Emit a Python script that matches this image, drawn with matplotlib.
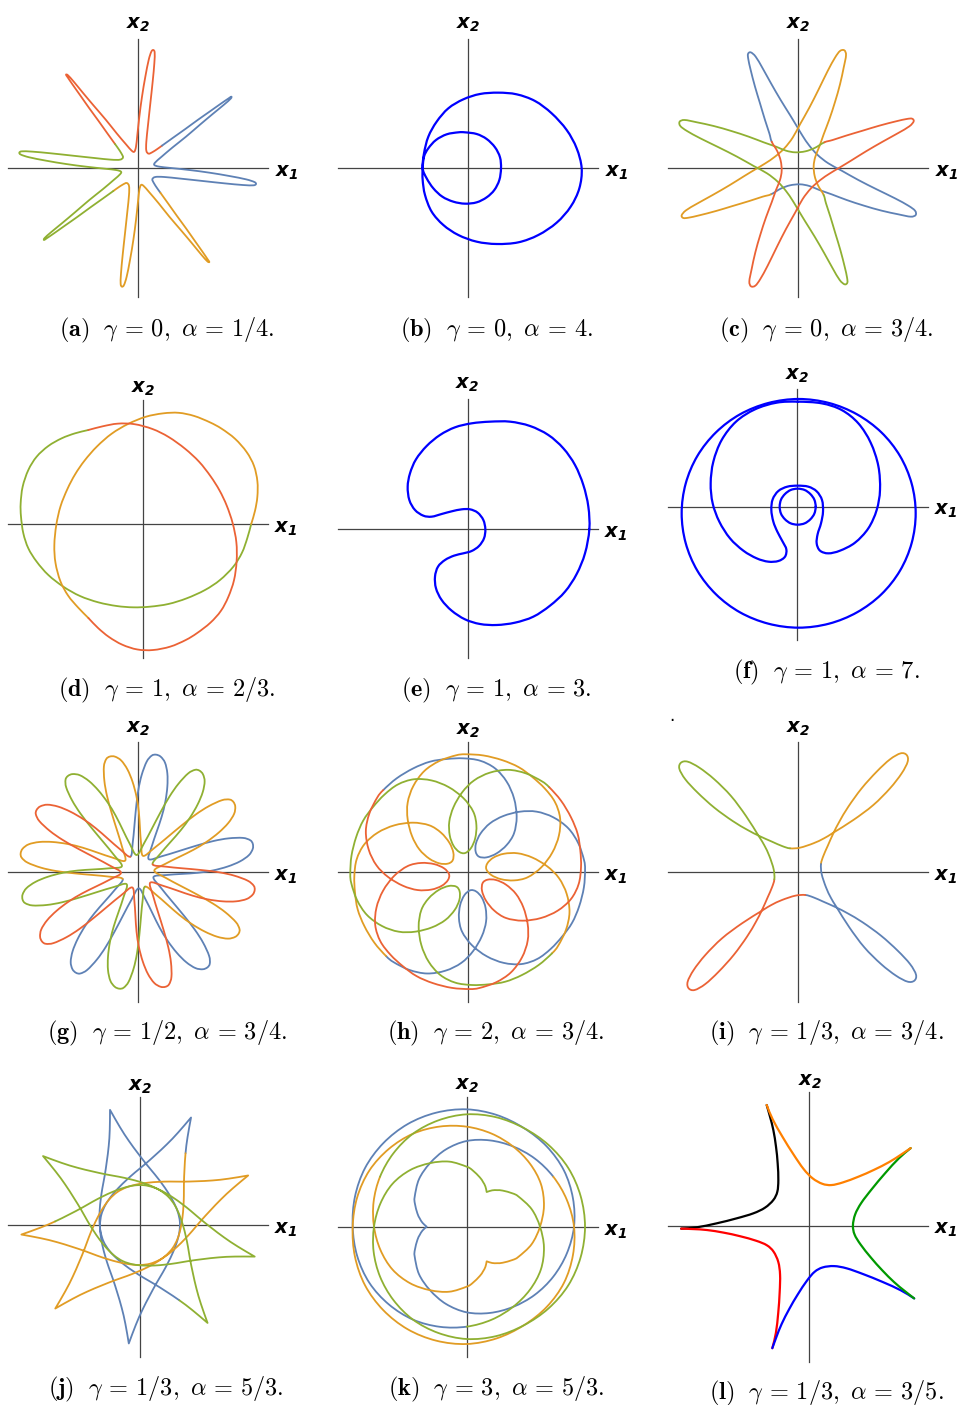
import numpy as np
import matplotlib.pyplot as plt
from matplotlib.path import Path
from matplotlib.patches import PathPatch

plt.rcParams['mathtext.fontset'] = 'cm'

W, H = 958, 1405
fig = plt.figure(figsize=(W / 100, H / 100), dpi=100)

# Mathematica default palette + pure colours
MBLUE, MORANGE, MGREEN, MRED = '#5E81B5', '#E19C24', '#8FB032', '#EB6235'
PURE = '#0000FF'
MCOLS = [MBLUE, MORANGE, MGREEN, MRED]

# ---------------------------------------------------------------------------
# traced curves, in 1/3-pixel units of each panel (y downwards), with the
# position of the (x1, x2) origin in the same units
# ---------------------------------------------------------------------------

# (a) gamma=0, alpha=1/4 : one quarter of the orbit (red), the rest by rotation
a_origin = (413, 505)
a_red = [(345, 432), (322, 400), (295, 362), (268, 325), (242, 288), (218, 254),
         (203, 232), (198, 224), (204, 226), (222, 246), (250, 280), (282, 318),
         (318, 360), (350, 400), (378, 433), (395, 452), (403, 455), (408, 440),
         (412, 405), (418, 350), (426, 290), (436, 230), (446, 180), (454, 155),
         (460, 150), (464, 158), (463, 190), (458, 245), (451, 310), (444, 375),
         (439, 425), (439, 452), (446, 461), (458, 456), (472, 447), (486, 437)]

# (b) gamma=0, alpha=4
b_origin = (413, 505)
b_outer = [(278, 505), (282, 460), (295, 410), (320, 365), (355, 325), (400, 298),
           (450, 282), (505, 278), (560, 283), (615, 303), (665, 340), (710, 390),
           (740, 445), (755, 505), (748, 565), (722, 620), (680, 668), (625, 705),
           (565, 727), (500, 732), (440, 725), (385, 705), (340, 675), (305, 635),
           (285, 585), (278, 540), (278, 505)]
b_inner = [(278, 505), (282, 470), (295, 445), (318, 420), (350, 403), (385, 397),
           (405, 397), (440, 402), (470, 417), (495, 442), (510, 472), (513, 505),
           (508, 540), (493, 570), (470, 592), (440, 607), (405, 611), (370, 605),
           (337, 590), (310, 565), (290, 535), (278, 505)]

# (c) gamma=0, alpha=3/4 : blue quarter
c_origin = (413, 505)
c_blue = [(335, 425), (328, 400), (315, 360), (300, 310), (285, 260), (272, 210),
          (265, 178), (264, 162), (272, 157), (287, 170), (308, 205), (333, 250),
          (362, 300), (390, 345), (410, 378), (428, 408), (448, 437), (473, 465),
          (505, 490), (545, 512), (595, 540), (650, 568), (705, 595), (745, 617),
          (765, 632), (767, 645), (752, 650), (715, 643), (665, 632), (612, 617),
          (560, 600), (515, 583), (478, 570), (448, 558), (420, 553), (390, 556),
          (362, 566), (333, 583)]

# (d) gamma=1, alpha=2/3 : green third
d_origin = (428, 492)
d_green = [(265, 210), (225, 220), (185, 235), (145, 258), (110, 290), (85, 330),
           (68, 380), (62, 430), (63, 470), (70, 520), (85, 565), (110, 605),
           (145, 645), (190, 680), (240, 708), (295, 727), (350, 738), (400, 742),
           (450, 740), (505, 732), (560, 715), (615, 690), (660, 660), (700, 620),
           (726, 578), (742, 534), (754, 492)]

# (e) gamma=1, alpha=3
e_origin = (413, 478)
e_curve = [(778, 478), (775, 410), (760, 345), (735, 285), (700, 235), (655, 195),
           (600, 168), (540, 155), (480, 155), (425, 160), (375, 172), (330, 195),
           (290, 228), (258, 268), (240, 310), (233, 350), (238, 390), (255, 420),
           (280, 437), (305, 440), (335, 432), (365, 424), (395, 418), (420, 418),
           (443, 428), (460, 450), (466, 478), (462, 505), (447, 528), (425, 543),
           (400, 550), (372, 557), (345, 570), (324, 590), (315, 620), (318, 655),
           (335, 690), (365, 722), (405, 748), (450, 762), (500, 765), (555, 758),
           (610, 740), (660, 707), (705, 665), (740, 612), (765, 550), (778, 478)]

# (f) gamma=1, alpha=7
f_origin = (410, 440)
f_outer = [(416, 117), (325, 129), (240, 163), (168, 217), (112, 288), (77, 371),
           (65, 460), (77, 549), (112, 632), (168, 703), (240, 757), (325, 791),
           (416, 803), (507, 791), (591, 757), (664, 703), (720, 632), (755, 549),
           (767, 460), (755, 371), (720, 288), (664, 217), (591, 163), (507, 129),
           (416, 117)]
f_middle = [(413, 125), (485, 130), (545, 150), (595, 190), (632, 248), (655, 318),
            (660, 390), (650, 450), (625, 505), (585, 548), (540, 572), (505, 580),
            (480, 572), (470, 550), (473, 522), (483, 490), (489, 455), (486, 420),
            (470, 394), (445, 380), (413, 377), (382, 380), (355, 393), (338, 418),
            (334, 450), (340, 485), (352, 515), (368, 545), (379, 568), (375, 590),
            (355, 603), (325, 605), (290, 595), (250, 572), (210, 535), (178, 485),
            (158, 430), (152, 370), (160, 305), (185, 240), (228, 185), (285, 148),
            (350, 128), (413, 125)]
f_inner = [(467, 440), (463, 419), (451, 402), (434, 390), (413, 386), (392, 390),
           (375, 402), (363, 419), (359, 440), (363, 461), (375, 478), (392, 490),
           (413, 494), (434, 490), (451, 478), (463, 461), (467, 440)]

# (g) gamma=1/2, alpha=3/4 : one petal, 16 petals in all
g_origin = (413, 455)
g_petal = [(391, 410), (398, 370), (403, 320), (408, 265), (415, 210), (425, 165),
           (440, 125), (455, 107), (468, 104), (482, 110), (495, 128), (502, 160),
           (502, 200), (496, 245), (485, 290), (470, 335), (455, 380), (446, 418)]
g_step = -67.5

# (h) gamma=2, alpha=3/4 : one outer arc + inner loop, 8 in all
h_origin = (413, 455)
h_unit = [(160, 210), (200, 175), (250, 145), (300, 125), (350, 117), (400, 115),
          (450, 122), (495, 145), (530, 185), (552, 235), (560, 290), (552, 340),
          (530, 375), (500, 400), (470, 412), (447, 410), (437, 395), (438, 370),
          (452, 340), (480, 310), (520, 288), (570, 275), (620, 275), (670, 292),
          (715, 325), (745, 370), (762, 420), (765, 449)]
h_step = -135.0

# (i) gamma=1/3, alpha=3/4 : orange quarter
i_origin = (413, 455)
i_orange = [(390, 385), (420, 383), (460, 370), (492, 355), (520, 338), (580, 300),
            (640, 255), (690, 205), (725, 160), (743, 125), (740, 105), (722, 100),
            (690, 118), (650, 155), (605, 205), (565, 260), (538, 305), (520, 340),
            (503, 378), (490, 408), (485, 430)]

# (j) gamma=1/3, alpha=5/3 : radius against angle swept from a cusp
j_phi = [0, 3, 7, 13, 21, 31, 42, 55, 70, 85, 100]
j_r = [357, 300, 255, 215, 182, 158, 141, 129, 122, 120, 120]
j_period, j_theta0 = 200, 104.6
j_ranges = [(-193, 407), (407, 1007), (1007, 1607)]

# (k) gamma=3, alpha=5/3
k_phi = [0, 5, 10, 15, 24, 30, 45, 60, 75, 90, 105, 120, 135, 150, 165, 180,
         195, 210, 225, 240, 255, 270, 285, 300]
k_r = [120, 133, 143, 153, 170, 180, 202, 220, 240, 257, 268, 278, 289, 300, 311,
       322, 330, 337, 340, 342, 347, 352, 354, 355]
k_period, k_theta0 = 600, 180.0
k_ranges = [(-450, 150), (150, 750), (750, 1350)]

# (l) gamma=1/3, alpha=3/5 : black fifth
l_origin = (447, 497)
l_black = [(320, 135), (330, 170), (340, 210), (348, 260), (353, 310), (355, 360),
           (352, 395), (340, 420), (315, 443), (280, 460), (230, 475), (170, 490),
           (110, 502), (62, 508)]
l_cols = ['#000000', '#FF0000', '#0000FF', '#009900', '#FF8000']


def rel(pts, origin):
    p = np.asarray(pts, float)
    return np.column_stack([p[:, 0] - origin[0], origin[1] - p[:, 1]])


def rot(p, deg):
    a = np.deg2rad(deg)
    c, s = np.cos(a), np.sin(a)
    return np.column_stack([c * p[:, 0] - s * p[:, 1], s * p[:, 0] + c * p[:, 1]])


def draw_loop(ax, P, seg_cols, lw, corner=None):
    """Closed curve through the nodes P (no repeated end point), drawn as a
    smooth Bezier chain; seg_cols[i] colours the piece from node i to i+1."""
    P = np.asarray(P, float)
    n = len(P)
    nxt, prv = np.roll(P, -1, 0), np.roll(P, 1, 0)
    t_in = (nxt - prv) / 6.0
    t_out = t_in.copy()
    if corner is not None:
        c = np.asarray(corner, bool)
        t_out[c] = (nxt[c] - P[c]) / 3.0
        t_in[c] = (P[c] - prv[c]) / 3.0
    i = 0
    while i < n:
        col = seg_cols[i]
        verts, codes = [P[i]], [Path.MOVETO]
        while i < n and seg_cols[i] == col:
            j = (i + 1) % n
            verts += [P[i] + t_out[i], P[j] - t_in[j], P[j]]
            codes += [Path.CURVE4] * 3
            i += 1
        ax.add_patch(PathPatch(Path(verts, codes), fill=False, edgecolor=col, lw=lw,
                               capstyle='round', joinstyle='round', zorder=2))


def draw_pieces(ax, pieces, cols, lw=1.3, corners_at_joins=False):
    P, seg, corner = [], [], []
    for p, col in zip(pieces, cols):
        P.append(p[:-1])
        seg += [col] * (len(p) - 1)
        corner += [corners_at_joins] + [False] * (len(p) - 2)
    draw_loop(ax, np.vstack(P), seg, lw, corner)


def polar_loop(ax, phi, r, period, theta0, ranges, cols, lw=1.3):
    phi = np.asarray(phi, float)
    r = np.asarray(r, float)
    one_phi = np.concatenate([phi, period - phi[-2:0:-1]])
    one_r = np.concatenate([r, r[-2:0:-1]])
    start, stop = ranges[0][0], ranges[-1][1]
    P, R = [], []
    for n in range(int(np.floor(start / period)) - 1, int(np.ceil(stop / period)) + 1):
        P.append(one_phi + n * period)
        R.append(one_r)
    P, R = np.concatenate(P), np.concatenate(R)
    keep = (P >= start) & (P < stop)
    P, R = P[keep], R[keep]
    P, idx = np.unique(P, return_index=True)
    R = R[idx]
    th = np.deg2rad(theta0 - P)
    pts = np.column_stack([R * np.cos(th), R * np.sin(th)])
    seg = []
    for p in P:
        for (s0, s1), col in zip(ranges, cols):
            if s0 <= p < s1:
                seg.append(col)
    corner = np.isclose(np.mod(P, period), 0)
    draw_loop(ax, pts, seg, lw, corner)


HALF = 150  # panel half-size in pixels


def panel(cx, cy, hx, vy, lab2, lab1):
    ax = fig.add_axes([(cx - HALF) / W, 1 - (cy + HALF) / H, 2 * HALF / W, 2 * HALF / H])
    ax.set_xlim(-3 * HALF, 3 * HALF)
    ax.set_ylim(-3 * HALF, 3 * HALF)
    ax.set_axis_off()
    ax.plot(hx, [0, 0], color='#444444', lw=0.9, zorder=1)
    ax.plot([0, 0], vy, color='#444444', lw=0.9, zorder=1)
    ax.text(lab2[0], lab2[1], r'$\mathbfit{x}_{\mathbfit{2}}$', math_fontfamily='dejavusans',
            fontsize=14, ha='center', va='center')
    ax.text(lab1[0], lab1[1], r'$\mathbfit{x}_{\mathbfit{1}}$', math_fontfamily='dejavusans',
            fontsize=14, ha='center', va='center')
    return ax


# ---- row 1 ----
ax = panel(137.67, 168.33, [-388, 392], [-385, 387], (2, 430), (447, -13))
red = rel(a_red, a_origin)
draw_pieces(ax, [rot(red, -90 * k) for k in range(4)], [MRED, MBLUE, MORANGE, MGREEN])

ax = panel(467.67, 168.33, [-388, 392], [-385, 387], (2, 430), (447, -13))
draw_pieces(ax, [rel(b_outer, b_origin), rel(b_inner, b_origin)], [PURE, PURE], 1.6)

ax = panel(797.67, 168.33, [-388, 392], [-385, 387], (2, 430), (447, -13))
blue = rel(c_blue, c_origin)
draw_pieces(ax, [rot(blue, 90 * k) for k in range(4)], MCOLS)

# ---- row 2 ----
ax = panel(142.67, 524.0, [-403, 377], [-403, 372], (2, 407), (430, -13))
green = rel(d_green, d_origin)
draw_pieces(ax, [rot(green, -120 * k) for k in range(3)], [MGREEN, MORANGE, MRED])

ax = panel(467.67, 529.33, [-388, 392], [-387, 390], (-3, 433), (445, -12))
draw_pieces(ax, [rel(e_curve, e_origin)], [PURE], 1.6)

ax = panel(796.67, 506.67, [-385, 395], [-400, 352], (0, 395), (448, -10))
for part in (f_outer, f_middle, f_inner):
    draw_pieces(ax, [rel(part, f_origin)], [PURE], 1.6)

# ---- row 3 ----
ax = panel(137.67, 871.67, [-388, 392], [-390, 390], (2, 430), (445, -13))
petal = rel(g_petal, g_origin)
draw_pieces(ax, [rot(petal, g_step * k) for k in range(16)], [MCOLS[k // 4] for k in range(16)])

ax = panel(467.67, 871.67, [-388, 392], [-390, 390], (2, 425), (445, -15))
unit = rel(h_unit, h_origin)
draw_pieces(ax, [rot(unit, h_step * k) for k in range(8)], [MCOLS[k // 2] for k in range(8)])

ax = panel(797.67, 871.67, [-388, 392], [-390, 390], (0, 430), (445, -13))
orange = rel(i_orange, i_origin)
draw_pieces(ax, [rot(orange, -90 * k) for k in range(4)], [MORANGE, MBLUE, MRED, MGREEN])

# ---- row 4 ----
ax = panel(140.0, 1225.0, [-395, 385], [-395, 385], (0, 415), (438, -15))
polar_loop(ax, j_phi, j_r, j_period, j_theta0, j_ranges, [MBLUE, MORANGE, MGREEN])

ax = panel(466.67, 1226.67, [-385, 395], [-390, 390], (0, 425), (448, -15))
polar_loop(ax, k_phi, k_r, k_period, k_theta0, k_ranges, [MBLUE, MORANGE, MGREEN])

ax = panel(809.0, 1225.67, [-422, 358], [-408, 402], (3, 432), (411, -11))
black = rel(l_black, l_origin)
draw_pieces(ax, [rot(black, 72 * k) for k in range(5)], l_cols, 1.6, corners_at_joins=True)

# ---- captions ----
captions = [
    ('a', r'\gamma = 0,\ \alpha = 1/4.', 167, 330),
    ('b', r'\gamma = 0,\ \alpha = 4.', 496, 330),
    ('c', r'\gamma = 0,\ \alpha = 3/4.', 826, 330),
    ('d', r'\gamma = 1,\ \alpha = 2/3.', 167, 690),
    ('e', r'\gamma = 1,\ \alpha = 3.', 496, 690),
    ('f', r'\gamma = 1,\ \alpha = 7.', 826, 672),
    ('g', r'\gamma = 1/2,\ \alpha = 3/4.', 167, 1033),
    ('h', r'\gamma = 2,\ \alpha = 3/4.', 496, 1033),
    ('i', r'\gamma = 1/3,\ \alpha = 3/4.', 826, 1033),
    ('j', r'\gamma = 1/3,\ \alpha = 5/3.', 166, 1389),
    ('k', r'\gamma = 3,\ \alpha = 5/3.', 496, 1389),
    ('l', r'\gamma = 1/3,\ \alpha = 3/5.', 826, 1393),
]
for tag, body, x, y in captions:
    body = body.replace('=', r'\,=\,')
    fig.text(x / W, 1 - y / H, r'$\mathbf{(%s)}\ \ %s$' % (tag, body),
             fontsize=17.5, ha='center', va='center')
fig.text(672 / W, 1 - 716 / H, '.', fontsize=12, ha='center', va='center')

fig.savefig('out.png', dpi=100)
